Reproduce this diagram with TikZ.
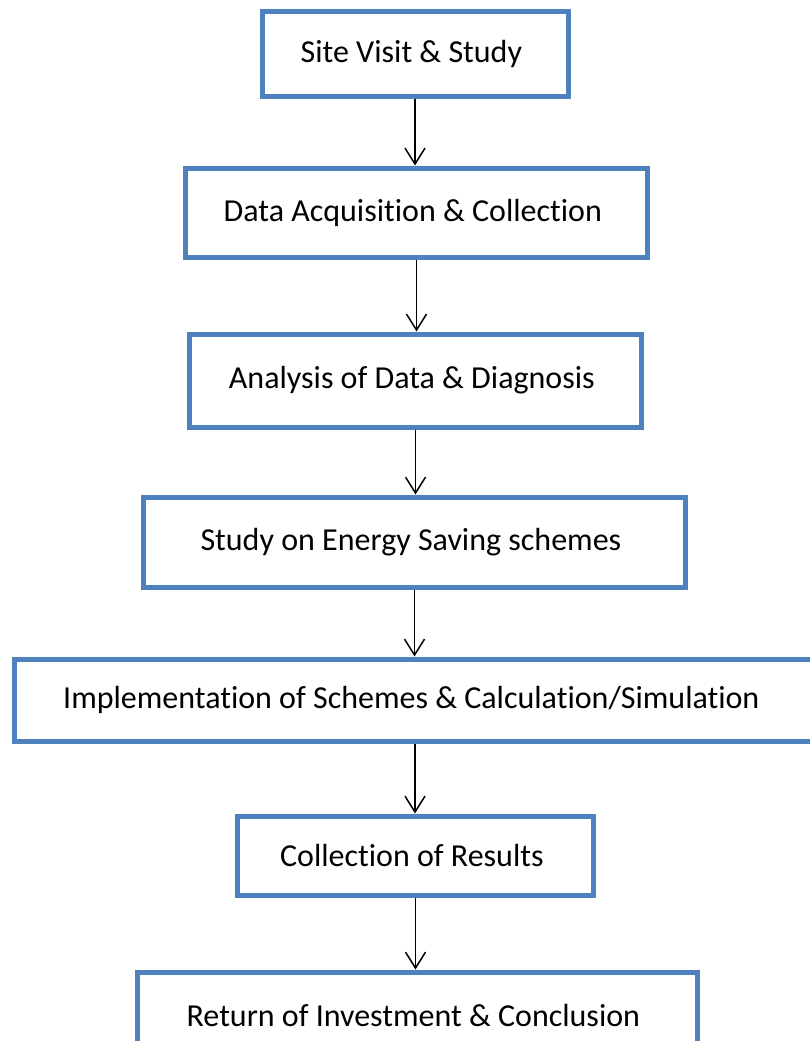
\documentclass[tikz,border=0pt]{standalone}
\usepackage{fontspec}
\setmainfont{Carlito}[Ligatures = NoCommon]
\usetikzlibrary{arrows.meta}
\definecolor{stageblue}{RGB}{79,129,189}

\begin{document}
\begin{tikzpicture}[x = 1pt, y = 1pt,
    stage/.style = { draw = stageblue, line width = 5pt, shape = rectangle,
      align = center, font = \fontsize{32}{38}\selectfont },
    flow/.style = { -{Straight Barb[length = 16pt, width = 20pt]}, line width = 1.5pt }]
  \useasboundingbox (0,0) rectangle (810,-1041);
  \node [stage, minimum width = 306pt, minimum height = 84pt] (visit) at (415,-54) { Site Visit \& Study };
  \node [stage, minimum width = 462pt, minimum height = 89pt] (data) at (416.5,-212.5) { Data Acquisition \& Collection };
  \node [stage, minimum width = 452pt, minimum height = 93pt] (analysis) at (415.5,-380.5) { Analysis of Data \& Diagnosis };
  \node [stage, minimum width = 542pt, minimum height = 90pt] (scheme) at (414.5,-542) { Study on Energy Saving schemes };
  \node [stage, minimum width = 802pt, minimum height = 82pt] (impl) at (415,-700) { Implementation of Schemes \& Calculation/Simulation };
  \node [stage, minimum width = 356pt, minimum height = 79pt] (results) at (415.5,-855.5) { Collection of Results };
  \node [stage, minimum width = 560pt, minimum height = 86pt] (roi) at (417,-1015) { Return of Investment \& Conclusion };
  % arrows between the stages
  \foreach \from/\to in {visit/data, data/analysis, analysis/scheme, scheme/impl, impl/results, results/roi}
    \draw [flow] (\from.south) -- (\from.south |- \to.north);
\end{tikzpicture}
\end{document}
